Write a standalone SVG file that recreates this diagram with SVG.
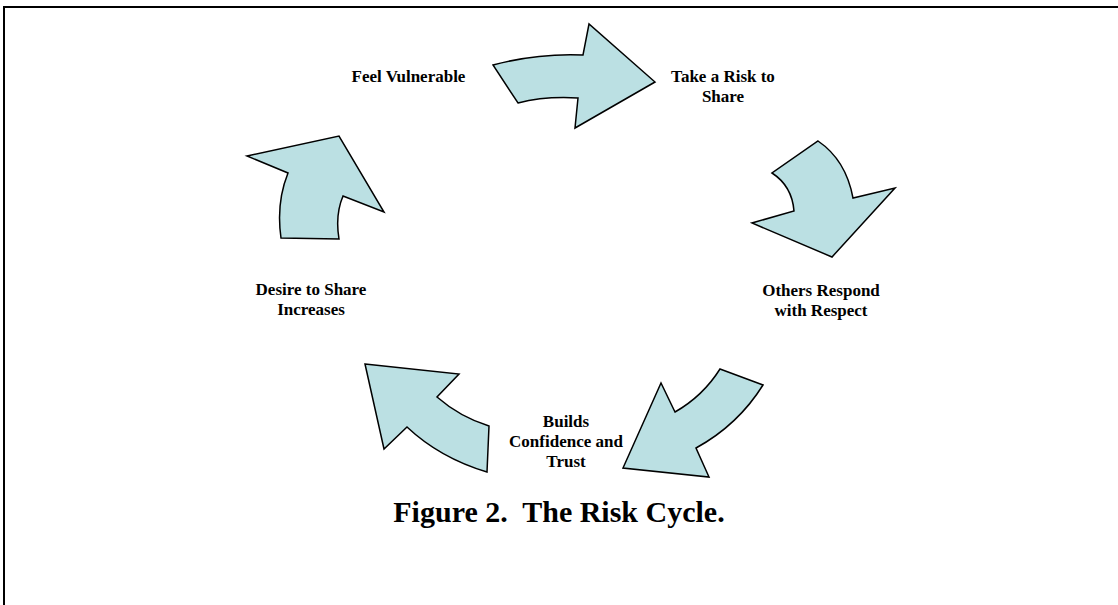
<svg xmlns="http://www.w3.org/2000/svg" width="1118" height="605" viewBox="0 0 1118 605">
<style>
.frame{fill:none;stroke:#000;stroke-width:2}
.arrow{fill:#bbe0e3;stroke:#000;stroke-width:1.5;stroke-linejoin:miter}
.lbl{font-family:"Liberation Serif","Times New Roman",serif;font-weight:bold;font-size:17px;fill:#000;text-anchor:middle}
.title{font-family:"Liberation Serif","Times New Roman",serif;font-weight:bold;font-size:30px;fill:#000;text-anchor:middle;white-space:pre}
</style>
<rect width="1118" height="605" fill="#fff"/>
<path class="frame" d="M4,606 V7 H1120"/>
<g id="connectors">
<path id="arrow-top" class="arrow" d="M493,65 Q538,53 583,55 L589,24 L655,82 L575,128 L578,98 Q545,96 518,103 Z"/>
<path id="arrow-right" class="arrow" d="M818,141 Q846,160 853,198 L895,188 L832,257 L752,223 L794,211 Q792,186 772,173 Z"/>
<path id="arrow-bottom-right" class="arrow" d="M720,369 L763,385 Q738,425 696,448 L709,477 L623,468 L661,383 L675,412 Q703,396 720,369 Z"/>
<path id="arrow-bottom-left" class="arrow" d="M365,364 L459,374 L437,397 Q460,417 489,426 L487,472 Q440,458 407,427 L384,449 Z"/>
<path id="arrow-left" class="arrow" d="M247,156 L339,136 L384,212 L343,196 Q335,215 339,239 L281,238 Q276,203 288,173 Z"/>
</g>
<g id="node-feel-vulnerable"><text class="lbl" x="408.5" y="82">Feel Vulnerable</text></g>
<g id="node-take-risk"><text class="lbl" x="723" y="82">Take a Risk to</text><text class="lbl" x="723" y="102">Share</text></g>
<g id="node-others-respond"><text class="lbl" x="821" y="296">Others Respond</text><text class="lbl" x="821" y="316">with Respect</text></g>
<g id="node-builds-confidence"><text class="lbl" x="566" y="427">Builds</text><text class="lbl" x="566" y="447">Confidence and</text><text class="lbl" x="566" y="467">Trust</text></g>
<g id="node-desire-share"><text class="lbl" x="311" y="295">Desire to Share</text><text class="lbl" x="311" y="315">Increases</text></g>
<g id="title"><text class="title" x="559" y="522" xml:space="preserve">Figure 2.  The Risk Cycle.</text></g>
</svg>
